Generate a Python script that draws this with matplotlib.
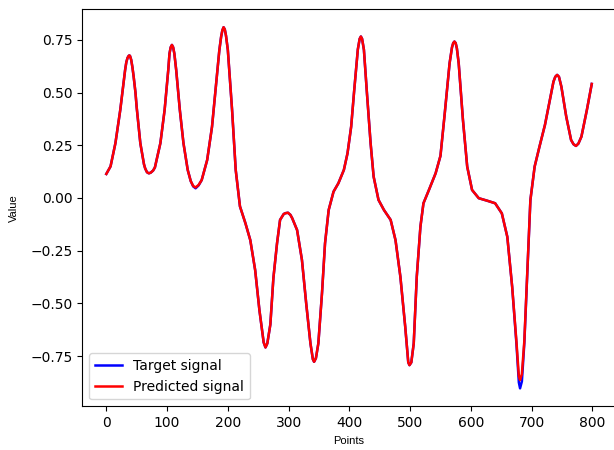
import matplotlib
matplotlib.use("Agg")
import matplotlib.pyplot as plt

# sample positions (points index)
points = [0, 7, 15, 23, 27, 31, 33, 35, 37, 38, 39, 41, 43, 45, 48, 50, 56, 62, 64,
          67, 70, 73, 77, 80, 89, 96, 102, 104, 106, 108, 110, 112, 115, 121, 127,
          134, 139, 143, 147, 152, 157, 166, 174, 182, 186, 189, 191, 193, 195, 197,
          200, 207, 213, 220, 229, 237, 245, 252, 259, 262, 265,
          270, 275, 281, 286, 292, 295, 299, 303, 306, 314, 322, 329, 336, 340, 342,
          345, 349, 355, 360, 366, 374, 382, 391, 397, 403, 408, 414, 417, 419, 421,
          424, 429, 435, 440, 448, 457, 468, 476, 484, 492, 497, 499, 502, 506, 511,
          517, 522, 531, 542, 550, 557, 565, 569, 571, 573, 575, 577, 580, 587, 594,
          602, 613, 627, 640, 651, 660, 668, 675, 679, 681, 684, 688, 694, 698, 705,
          713, 722, 729, 736, 739, 742, 745, 749, 757, 765, 769, 773, 777, 782, 791,
          799]

target_signal = [0.114, 0.15, 0.26, 0.418, 0.515, 0.608, 0.645, 0.665, 0.675, 0.676,
                 0.674, 0.655, 0.62, 0.576, 0.50, 0.43, 0.26, 0.16, 0.14,
                 0.122, 0.117, 0.12, 0.13, 0.145, 0.26, 0.418, 0.608, 0.685, 0.715,
                 0.726, 0.715, 0.685, 0.608, 0.418, 0.26,
                 0.133, 0.08, 0.055, 0.046, 0.06, 0.085, 0.18, 0.338, 0.576, 0.70,
                 0.765, 0.795, 0.81, 0.80, 0.77,
                 0.703, 0.418, 0.133, -0.04, -0.12, -0.2, -0.342, -0.532, -0.685,
                 -0.709, -0.69,
                 -0.6, -0.38, -0.215, -0.104, -0.076, -0.072, -0.07, -0.08, -0.096,
                 -0.152, -0.294, -0.5, -0.69, -0.765, -0.777,
                 -0.76, -0.69, -0.452, -0.215, -0.057, 0.03, 0.07, 0.133, 0.212, 0.338,
                 0.51, 0.705, 0.755, 0.766, 0.755,
                 0.703, 0.497, 0.26, 0.101, -0.009, -0.057, -0.104, -0.2, -0.373,
                 -0.611, -0.78, -0.793, -0.78, -0.69, -0.373,
                 -0.136, -0.025, 0.038, 0.117, 0.2, 0.4, 0.639, 0.715, 0.735, 0.742,
                 0.735, 0.71, 0.639, 0.37, 0.149,
                 0.038, -0.001, -0.013, -0.025, -0.073, -0.184, -0.421, -0.69, -0.875,
                 -0.903, -0.87, -0.69, -0.28, -0.01, 0.149,
                 0.244, 0.347, 0.45, 0.552, 0.575, 0.584, 0.575, 0.528, 0.386, 0.275,
                 0.255, 0.247, 0.258, 0.291, 0.418,
                 0.541]

predicted_signal = [0.114, 0.15, 0.26, 0.418, 0.515, 0.608, 0.645, 0.665, 0.675, 0.676,
                    0.674, 0.655, 0.62, 0.576, 0.50, 0.43, 0.26, 0.16, 0.14,
                    0.122, 0.117, 0.12, 0.13, 0.145, 0.26, 0.418, 0.608, 0.685, 0.715,
                    0.726, 0.715, 0.685, 0.608, 0.418, 0.26,
                    0.133, 0.08, 0.057, 0.05, 0.062, 0.085, 0.18, 0.338, 0.576, 0.70,
                    0.765, 0.795, 0.81, 0.80, 0.77,
                    0.703, 0.418, 0.133, -0.04, -0.12, -0.2, -0.342, -0.532, -0.685,
                    -0.709, -0.69,
                    -0.6, -0.38, -0.215, -0.104, -0.076, -0.072, -0.07, -0.08, -0.096,
                    -0.152, -0.294, -0.5, -0.69, -0.765, -0.777,
                    -0.76, -0.69, -0.452, -0.215, -0.057, 0.03, 0.07, 0.133, 0.212, 0.338,
                    0.51, 0.705, 0.755, 0.766, 0.755,
                    0.703, 0.497, 0.26, 0.101, -0.009, -0.057, -0.104, -0.2, -0.373,
                    -0.611, -0.78, -0.793, -0.78, -0.69, -0.373,
                    -0.136, -0.025, 0.038, 0.117, 0.2, 0.4, 0.639, 0.715, 0.735, 0.742,
                    0.735, 0.71, 0.639, 0.37, 0.149,
                    0.038, -0.001, -0.013, -0.025, -0.073, -0.184, -0.421, -0.68, -0.845,
                    -0.864, -0.835, -0.68, -0.28, -0.01, 0.149,
                    0.244, 0.347, 0.45, 0.552, 0.575, 0.584, 0.575, 0.528, 0.386, 0.275,
                    0.255, 0.247, 0.258, 0.291, 0.418,
                    0.541]

fig = plt.figure(figsize=(6.14, 4.5), dpi=100)
ax = fig.add_axes([0.1336, 0.0969, 0.8697, 0.8827])

ax.plot(points, target_signal, color="blue", linewidth=1.8, label="Target signal")
ax.plot(points, predicted_signal, color="red", linewidth=1.8, label="Predicted signal")

ax.set_xticks(range(0, 801, 100))
ax.set_xlabel("Points", fontsize=8, family="Liberation Sans")
ax.set_ylabel("Value", fontsize=8, family="Liberation Sans", labelpad=8)
ax.legend(loc="lower left")

fig.savefig("out.png", dpi=100)
